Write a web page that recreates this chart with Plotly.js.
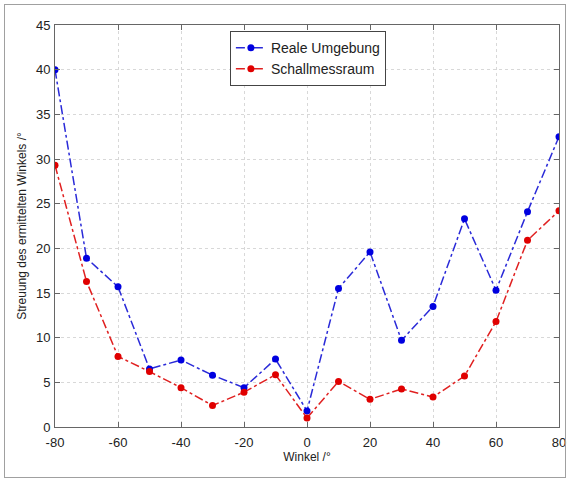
<!DOCTYPE html>
<html><head><meta charset="utf-8">
<script src="https://cdn.plot.ly/plotly-3.0.1.min.js"></script>
<style>
html,body{margin:0;padding:0;background:#fff;}
#wrap{position:relative;width:570px;height:481px;}
#frame{position:absolute;left:4px;top:4px;width:560px;height:472px;border:1px solid #a0a0a0;pointer-events:none;}
</style></head>
<body><div id="wrap"><div id="chart" style="width:570px;height:481px;"></div><div id="frame"></div></div>
<script>
const winkel = [-80,-70,-60,-50,-40,-30,-20,-10,0,10,20,30,40,50,60,70,80];
const realeUmgebung = [40,18.9,15.7,6.5,7.5,5.8,4.4,7.6,1.8,15.5,19.6,9.7,13.5,23.3,15.3,24.1,32.5];
const schallmessraum = [29.3,16.3,7.9,6.2,4.4,2.4,3.9,5.85,1.0,5.1,3.1,4.25,3.35,5.7,11.8,20.9,24.2];
const xTicks = [-80,-60,-40,-20,0,20,40,60,80];
const yTicks = [0,5,10,15,20,25,30,35,40,45];

const FONT = 'Liberation Sans, Arial, sans-serif';
const traces = [
 {x: winkel, y: realeUmgebung, name: 'Reale Umgebung', mode: 'lines+markers',
  line: {color: '#2a2ad8', width: 1.5, dash: 'dashdot'}, marker: {color: '#0000e0', size: 7}},
 {x: winkel, y: schallmessraum, name: 'Schallmessraum', mode: 'lines+markers',
  line: {color: '#e02020', width: 1.5, dash: 'dashdot'}, marker: {color: '#e00000', size: 7}}
];
const axisCommon = {showline: true, linecolor: '#666', linewidth: 1, mirror: 'ticks',
  ticks: 'inside', ticklen: 5, tickcolor: '#666', showgrid: true, gridcolor: '#d8d8d8',
  griddash: 'dot', zeroline: false, tickfont: {family: FONT, size: 13, color: '#222'}};
const layout = {
  width: 570, height: 481, paper_bgcolor: '#fff', plot_bgcolor: '#fff',
  margin: {l: 55, r: 11, t: 25, b: 54},
  showlegend: true,
  xaxis: Object.assign({}, axisCommon, {range: [-80, 80], tickvals: xTicks, ticktext: xTicks.map(String),
    ticklabelstandoff: 3,
    title: {text: 'Winkel /°', standoff: 3, font: {family: FONT, size: 12, color: '#222'}}}),
  yaxis: Object.assign({}, axisCommon, {range: [0, 45], tickvals: yTicks, ticktext: yTicks.map(String),
    ticklabelstandoff: 1,
    title: {text: 'Streuung des ermittelten Winkels /°', standoff: 6, font: {family: FONT, size: 12, color: '#222'}}}),
  legend: {x: 0.347, y: 0.985, xanchor: 'left', yanchor: 'top', bgcolor: '#fff', bordercolor: '#444', borderwidth: 1,
    itemwidth: 30, font: {family: FONT, size: 14, color: '#222'}, tracegroupgap: 0}
};
Plotly.newPlot('chart', traces, layout, {displayModeBar: false, staticPlot: true});
</script></body></html>
